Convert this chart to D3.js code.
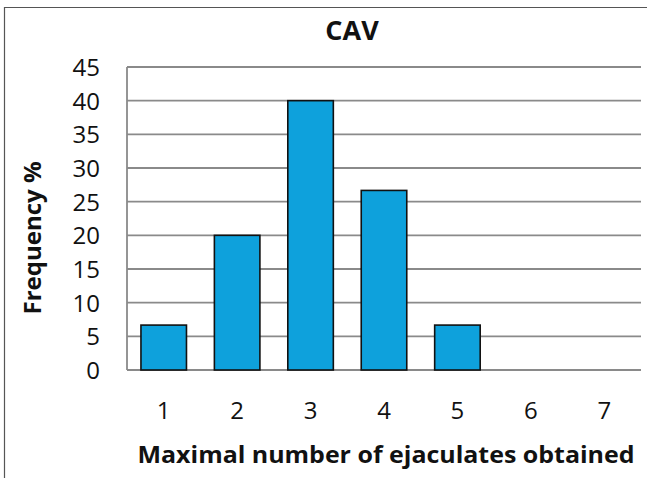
<!DOCTYPE html>
<html>
<head>
<meta charset="utf-8">
<script src="https://cdn.jsdelivr.net/npm/d3@7"></script>
<style>
  html, body { margin: 0; padding: 0; background: #fff; }
  svg { display: block; }
  text { font-family: "Open Sans", "Noto Sans", sans-serif; fill: #111; }
</style>
</head>
<body>
<svg id="chart" width="647" height="478"></svg>
<script>
// chart data
const categories = ['1', '2', '3', '4', '5', '6', '7'];
const frequency = [6.67, 20, 40, 26.67, 6.67, 0, 0];
const yTicks = [0, 5, 10, 15, 20, 25, 30, 35, 40, 45];

const svg = d3.select('#chart');
const W = 647, H = 478;
const plot = { left: 127, right: 641, top: 67, bottom: 370 };

// outer frame (only top + left visible in the crop)
svg.append('path')
    .attr('d', `M4.5,${H} L4.5,7.5 L${W},7.5`)
    .attr('fill', 'none')
    .attr('stroke', '#555')
    .attr('stroke-width', 1.2);

const x = d3.scaleBand()
    .domain(categories)
    .range([plot.left, plot.right])
    .paddingInner(0.38)
    .paddingOuter(0.19);

const y = d3.scaleLinear()
    .domain([0, 45])
    .range([plot.bottom, plot.top]);

// gridlines
svg.append('g')
    .selectAll('line')
    .data(yTicks)
    .enter().append('line')
    .attr('x1', plot.left)
    .attr('x2', plot.right)
    .attr('y1', d => y(d))
    .attr('y2', d => y(d))
    .attr('stroke', '#8a8a8a')
    .attr('stroke-width', 1.8);

// y axis line
svg.append('line')
    .attr('x1', plot.left).attr('x2', plot.left)
    .attr('y1', plot.top).attr('y2', plot.bottom)
    .attr('stroke', '#8a8a8a')
    .attr('stroke-width', 1.8);

// bars
svg.append('g')
    .selectAll('rect')
    .data(categories.map((c, i) => ({ cat: c, value: frequency[i] })).filter(d => d.value > 0))
    .enter().append('rect')
    .attr('x', d => x(d.cat))
    .attr('y', d => y(d.value))
    .attr('width', x.bandwidth())
    .attr('height', d => y(0) - y(d.value))
    .attr('fill', '#0ea1dc')
    .attr('stroke', '#111')
    .attr('stroke-width', 1.6);

// y tick labels
const yAxis = d3.axisLeft(y).tickValues(yTicks).tickSize(0).tickPadding(0);
const yg = svg.append('g')
    .attr('transform', `translate(100,0)`)
    .call(yAxis);
yg.select('.domain').remove();
yg.selectAll('text')
    .attr('font-size', 24)
    .attr('font-family', '"Open Sans", sans-serif')
    .attr('fill', '#111')
    .attr('dy', '0.36em');

// x tick labels
const xAxis = d3.axisBottom(x).tickSize(0).tickPadding(0);
const xg = svg.append('g')
    .attr('transform', `translate(0,410)`)
    .call(xAxis);
xg.select('.domain').remove();
xg.selectAll('text')
    .attr('font-size', 24)
    .attr('font-family', '"Open Sans", sans-serif')
    .attr('fill', '#111')
    .attr('dy', '0.36em');

// titles
svg.append('text')
    .attr('x', 352)
    .attr('y', 40)
    .attr('text-anchor', 'middle')
    .attr('font-size', 27)
    .attr('font-weight', 'bold')
    .text('CAV');

svg.append('text')
    .attr('x', 386)
    .attr('y', 463)
    .attr('text-anchor', 'middle')
    .attr('font-size', 24)
    .attr('font-weight', 'bold')
    .attr('textLength', 497)
    .attr('lengthAdjust', 'spacingAndGlyphs')
    .text('Maximal number of ejaculates obtained');

svg.append('text')
    .attr('transform', 'translate(41,238) rotate(-90)')
    .attr('text-anchor', 'middle')
    .attr('font-size', 24)
    .attr('font-weight', 'bold')
    .text('Frequency %');
</script>
</body>
</html>
